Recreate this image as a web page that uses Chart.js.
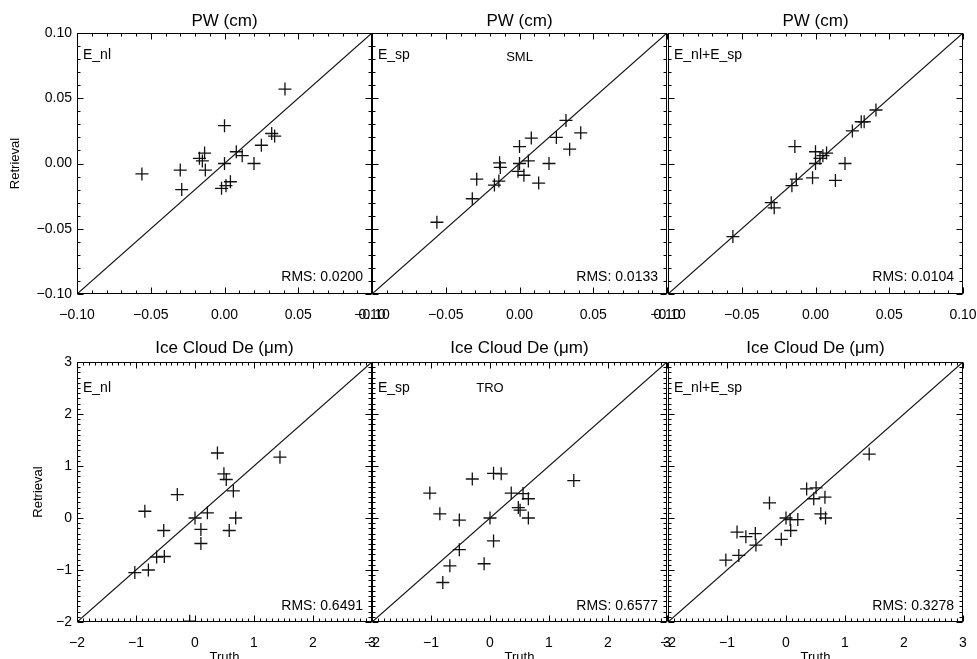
<!DOCTYPE html>
<html lang="en">
<head>
<meta charset="UTF-8">
<title>PW and Ice Cloud De: retrieval vs truth</title>
<script src="https://cdn.jsdelivr.net/npm/chart.js@4"></script>
<style>
  html, body { margin: 0; padding: 0; background: #fff; overflow: hidden; }
  #wrap { position: relative; width: 977px; height: 659px; overflow: hidden; }
  #wrap canvas { position: absolute; }
</style>
</head>
<body>
<div id="wrap"></div>
<script>
// tick labels
const pwTicks = [-0.10, -0.05, 0.00, 0.05, 0.10];
const deTicks = [-2, -1, 0, 1, 2, 3];

// PW (cm), E_nl
const pwNlTruth = [0.041, 0.000, 0.032, 0.034, 0.025, 0.008, 0.012, 0.020, 0.000, -0.017, -0.015, -0.0135, -0.013, -0.030, -0.029, -0.056, -0.002, 0.001, 0.004];
const pwNlRet   = [0.057, 0.029, 0.023, 0.021, 0.014, 0.009, 0.006, 0.000, 0.000, 0.004, 0.002, 0.008, -0.005, -0.005, -0.020, -0.008, -0.019, -0.017, -0.014];
// PW (cm), E_sp
const pwSpTruth = [0.0315, 0.0415, 0.025, 0.008, 0.034, 0.000, 0.006, 0.000, 0.020, -0.0135, -0.013, -0.001, 0.003, 0.013, -0.029, -0.014, -0.017, -0.032, -0.056];
const pwSpRet   = [0.033, 0.0235, 0.020, 0.0195, 0.011, 0.013, 0.002, 0.000, 0.000, 0.0005, -0.003, -0.006, -0.009, -0.015, -0.012, -0.0135, -0.0165, -0.027, -0.045];
// PW (cm), E_nl+E_sp
const pwBothTruth = [0.041, 0.033, 0.031, 0.025, 0.0075, 0.005, 0.003, 0.000, 0.000, 0.020, 0.0135, -0.002, -0.014, -0.013, -0.016, -0.030, -0.028, -0.056];
const pwBothRet   = [0.041, 0.032, 0.032, 0.025, 0.008, 0.006, 0.004, 0.009, 0.000, 0.000, -0.013, -0.011, 0.013, -0.012, -0.017, -0.030, -0.034, -0.056];

// Ice Cloud De, E_nl
const deNlTruth = [1.44, 0.38, 0.49, 0.53, -0.30, 0.65, -0.85, 0.21, 0.00, 0.69, -0.53, 0.10, 0.58, 0.10, -0.65, -0.52, -0.79, -1.02, -0.09];
const deNlRet   = [1.17, 1.25, 0.85, 0.74, 0.45, 0.52, 0.13, 0.10, 0.00, 0.00, -0.24, -0.22, -0.24, -0.49, -0.75, -0.74, -1.00, -1.05, -1.985];
// Ice Cloud De, E_sp
const deSpTruth = [-1.02, -0.85, -0.52, -0.30, 0.06, 0.19, 0.36, 0.56, 0.65, 0.48, 0.51, 0.65, 0.00, 1.42, 0.06, -0.52, -0.68, -0.10, -0.80];
const deSpRet   = [0.48, 0.08, -0.04, 0.75, 0.86, 0.85, 0.48, 0.47, 0.37, 0.20, 0.15, 0.00, 0.00, 0.72, -0.44, -0.61, -0.92, -0.88, -1.24];
// Ice Cloud De, E_nl+E_sp
const deBothTruth = [1.41, 0.35, 0.51, 0.47, 0.66, -0.28, 0.00, 0.07, 0.20, 0.59, 0.67, 0.08, -0.08, -0.83, -0.68, -0.52, -0.51, -0.80, -1.02];
const deBothRet   = [1.23, 0.56, 0.58, 0.37, 0.40, 0.29, 0.00, -0.03, -0.03, 0.08, 0.00, -0.24, -0.41, -0.27, -0.36, -0.30, -0.52, -0.72, -0.81];

const caseLabels = ['E_nl', 'E_sp', 'E_nl+E_sp'];
const pwRms = ['RMS: 0.0200', 'RMS: 0.0133', 'RMS: 0.0104'];
const deRms = ['RMS: 0.6491', 'RMS: 0.6577', 'RMS: 0.3278'];

const FONT = "'Liberation Sans', Arial, sans-serif";
Chart.defaults.font.family = FONT;
Chart.defaults.color = '#000';

const fmtPw = v => (Math.abs(v) < 1e-9 ? 0 : v).toFixed(2).replace('-', '\u2212');
const fmtDe = v => String(Math.round(v)).replace('-', '\u2212');

// box, inward IDL-style ticks and the panel annotations
const framePlugin = {
  id: 'frame',
  afterDatasetsDraw(chart, args, o) {
    const { ctx, chartArea: a, scales: { x, y } } = chart;
    const L = Math.round(a.left) + 0.5, R = Math.round(a.right) - 0.5;
    const T = Math.round(a.top) + 0.5, B = Math.round(a.bottom) - 0.5;
    ctx.save();
    ctx.strokeStyle = '#000';
    ctx.lineWidth = 1;
    ctx.strokeRect(L, T, R - L, B - T);
    ctx.beginPath();
    const n = Math.round((o.max - o.min) / o.minor);
    for (let i = 0; i <= n; i++) {
      const v = o.min + i * o.minor;
      const r = v / o.major;
      const len = Math.abs(r - Math.round(r)) < 1e-6 ? 6 : 3;
      const px = Math.round(x.getPixelForValue(v)) + 0.5;
      const py = Math.round(y.getPixelForValue(v)) + 0.5;
      ctx.moveTo(px, B); ctx.lineTo(px, B - len);
      ctx.moveTo(px, T); ctx.lineTo(px, T + len);
      ctx.moveTo(L, py); ctx.lineTo(L + len, py);
      ctx.moveTo(R, py); ctx.lineTo(R - len, py);
    }
    ctx.stroke();

    ctx.fillStyle = '#000';
    ctx.textBaseline = 'middle';
    ctx.font = '14px ' + FONT;
    ctx.textAlign = 'left';
    ctx.fillText(o.corner, a.left + 6, a.top + o.cornerY);
    ctx.textAlign = 'right';
    ctx.fillText(o.rms, a.right - 9, a.bottom - o.rmsY);
    if (o.mid) {
      ctx.font = '13px ' + FONT;
      ctx.textAlign = 'center';
      ctx.fillText(o.mid, a.left + o.midX * (a.right - a.left), a.top + o.midY);
    }
    ctx.restore();
  }
};

const wrap = document.getElementById('wrap');
const W = 392;
const TITLE_SIZE = 17;

function makePanel(p) {
  const c = document.createElement('canvas');
  c.width = W; c.height = p.h;
  c.style.width = W + 'px'; c.style.height = p.h + 'px';
  c.style.left = p.left + 'px'; c.style.top = p.top + 'px';
  wrap.appendChild(c);

  new Chart(c, {
    type: 'scatter',
    data: {
      datasets: [
        {
          type: 'line',
          data: [{ x: p.min, y: p.min }, { x: p.max, y: p.max }],
          borderColor: '#111', borderWidth: 1.2, pointRadius: 0, fill: false
        },
        {
          data: p.xs.map((v, i) => ({ x: v, y: p.ys[i] })),
          pointStyle: 'cross', pointRadius: 6.5, pointHoverRadius: 6.5,
          borderColor: '#111', borderWidth: 1.3,
          clip: 0
        }
      ]
    },
    options: {
      responsive: false,
      animation: false,
      events: [],
      layout: { padding: { left: 0, right: 20, top: 0, bottom: 0 } },
      plugins: {
        legend: { display: false },
        tooltip: { enabled: false },
        title: {
          display: true, text: p.title, fullSize: false, color: '#000',
          font: { size: TITLE_SIZE, weight: 'normal', lineHeight: 1 },
          padding: { top: p.titleTop, bottom: 33 - TITLE_SIZE - p.titleTop }
        },
        frame: {
          min: p.min, max: p.max, minor: p.minor, major: p.major,
          corner: p.corner, cornerY: p.cornerY, rms: p.rms, rmsY: p.rmsY,
          mid: p.mid, midX: p.midX, midY: p.midY
        }
      },
      scales: {
        x: {
          type: 'linear', min: p.min, max: p.max,
          afterBuildTicks: s => { s.ticks = p.ticks.map(v => ({ value: v })); },
          afterFit: s => { s.height = p.xAxisH; s.paddingLeft = 0; s.paddingRight = 0; },
          grid: { display: false, drawTicks: false },
          border: { display: false },
          ticks: { padding: 12.5, font: { size: 14 }, maxRotation: 0, autoSkip: false, callback: p.fmt },
          title: {
            display: p.truth, text: 'Truth',
            font: { size: 13, lineHeight: 1 }, padding: { top: 0, bottom: 6.5 }
          }
        },
        y: {
          type: 'linear', min: p.min, max: p.max,
          afterBuildTicks: s => { s.ticks = p.ticks.map(v => ({ value: v })); },
          afterFit: s => { s.width = 77; s.paddingTop = 0; s.paddingBottom = 0; },
          grid: { display: false, drawTicks: false },
          border: { display: false },
          ticks: { display: p.yLabels, padding: 5, font: { size: 14 }, autoSkip: false, callback: p.fmt },
          title: {
            display: p.yLabels, text: 'Retrieval',
            font: { size: 13, lineHeight: 1 }, padding: { top: p.retPad, bottom: 0 }
          }
        }
      }
    },
    plugins: [framePlugin]
  });
}

const lefts = [0, 295, 591];
const pwSets = [[pwNlTruth, pwNlRet], [pwSpTruth, pwSpRet], [pwBothTruth, pwBothRet]];
const deSets = [[deNlTruth, deNlRet], [deSpTruth, deSpRet], [deBothTruth, deBothRet]];

for (let i = 0; i < 3; i++) {
  makePanel({
    left: lefts[i], top: 0, h: 334, xAxisH: 40,
    title: 'PW (cm)', titleTop: 12.5,
    xs: pwSets[i][0], ys: pwSets[i][1],
    min: -0.1, max: 0.1, minor: 0.01, major: 0.05, ticks: pwTicks, fmt: fmtPw,
    corner: caseLabels[i], cornerY: 22, rms: pwRms[i], rmsY: 17,
    mid: i === 1 ? 'SML' : null, midX: 0.5, midY: 24,
    truth: false, yLabels: i === 0, retPad: 9
  });
}
for (let i = 0; i < 3; i++) {
  makePanel({
    left: lefts[i], top: 329, h: 341, xAxisH: 48,
    title: 'Ice Cloud De (\u03bcm)', titleTop: 10.5,
    xs: deSets[i][0], ys: deSets[i][1],
    min: -2, max: 3, minor: 0.1, major: 1, ticks: deTicks, fmt: fmtDe,
    corner: caseLabels[i], cornerY: 26, rms: deRms[i], rmsY: 15.5,
    mid: i === 1 ? 'TRO' : null, midX: 0.4, midY: 26,
    truth: true, yLabels: i === 0, retPad: 31.5
  });
}
</script>
</body>
</html>
